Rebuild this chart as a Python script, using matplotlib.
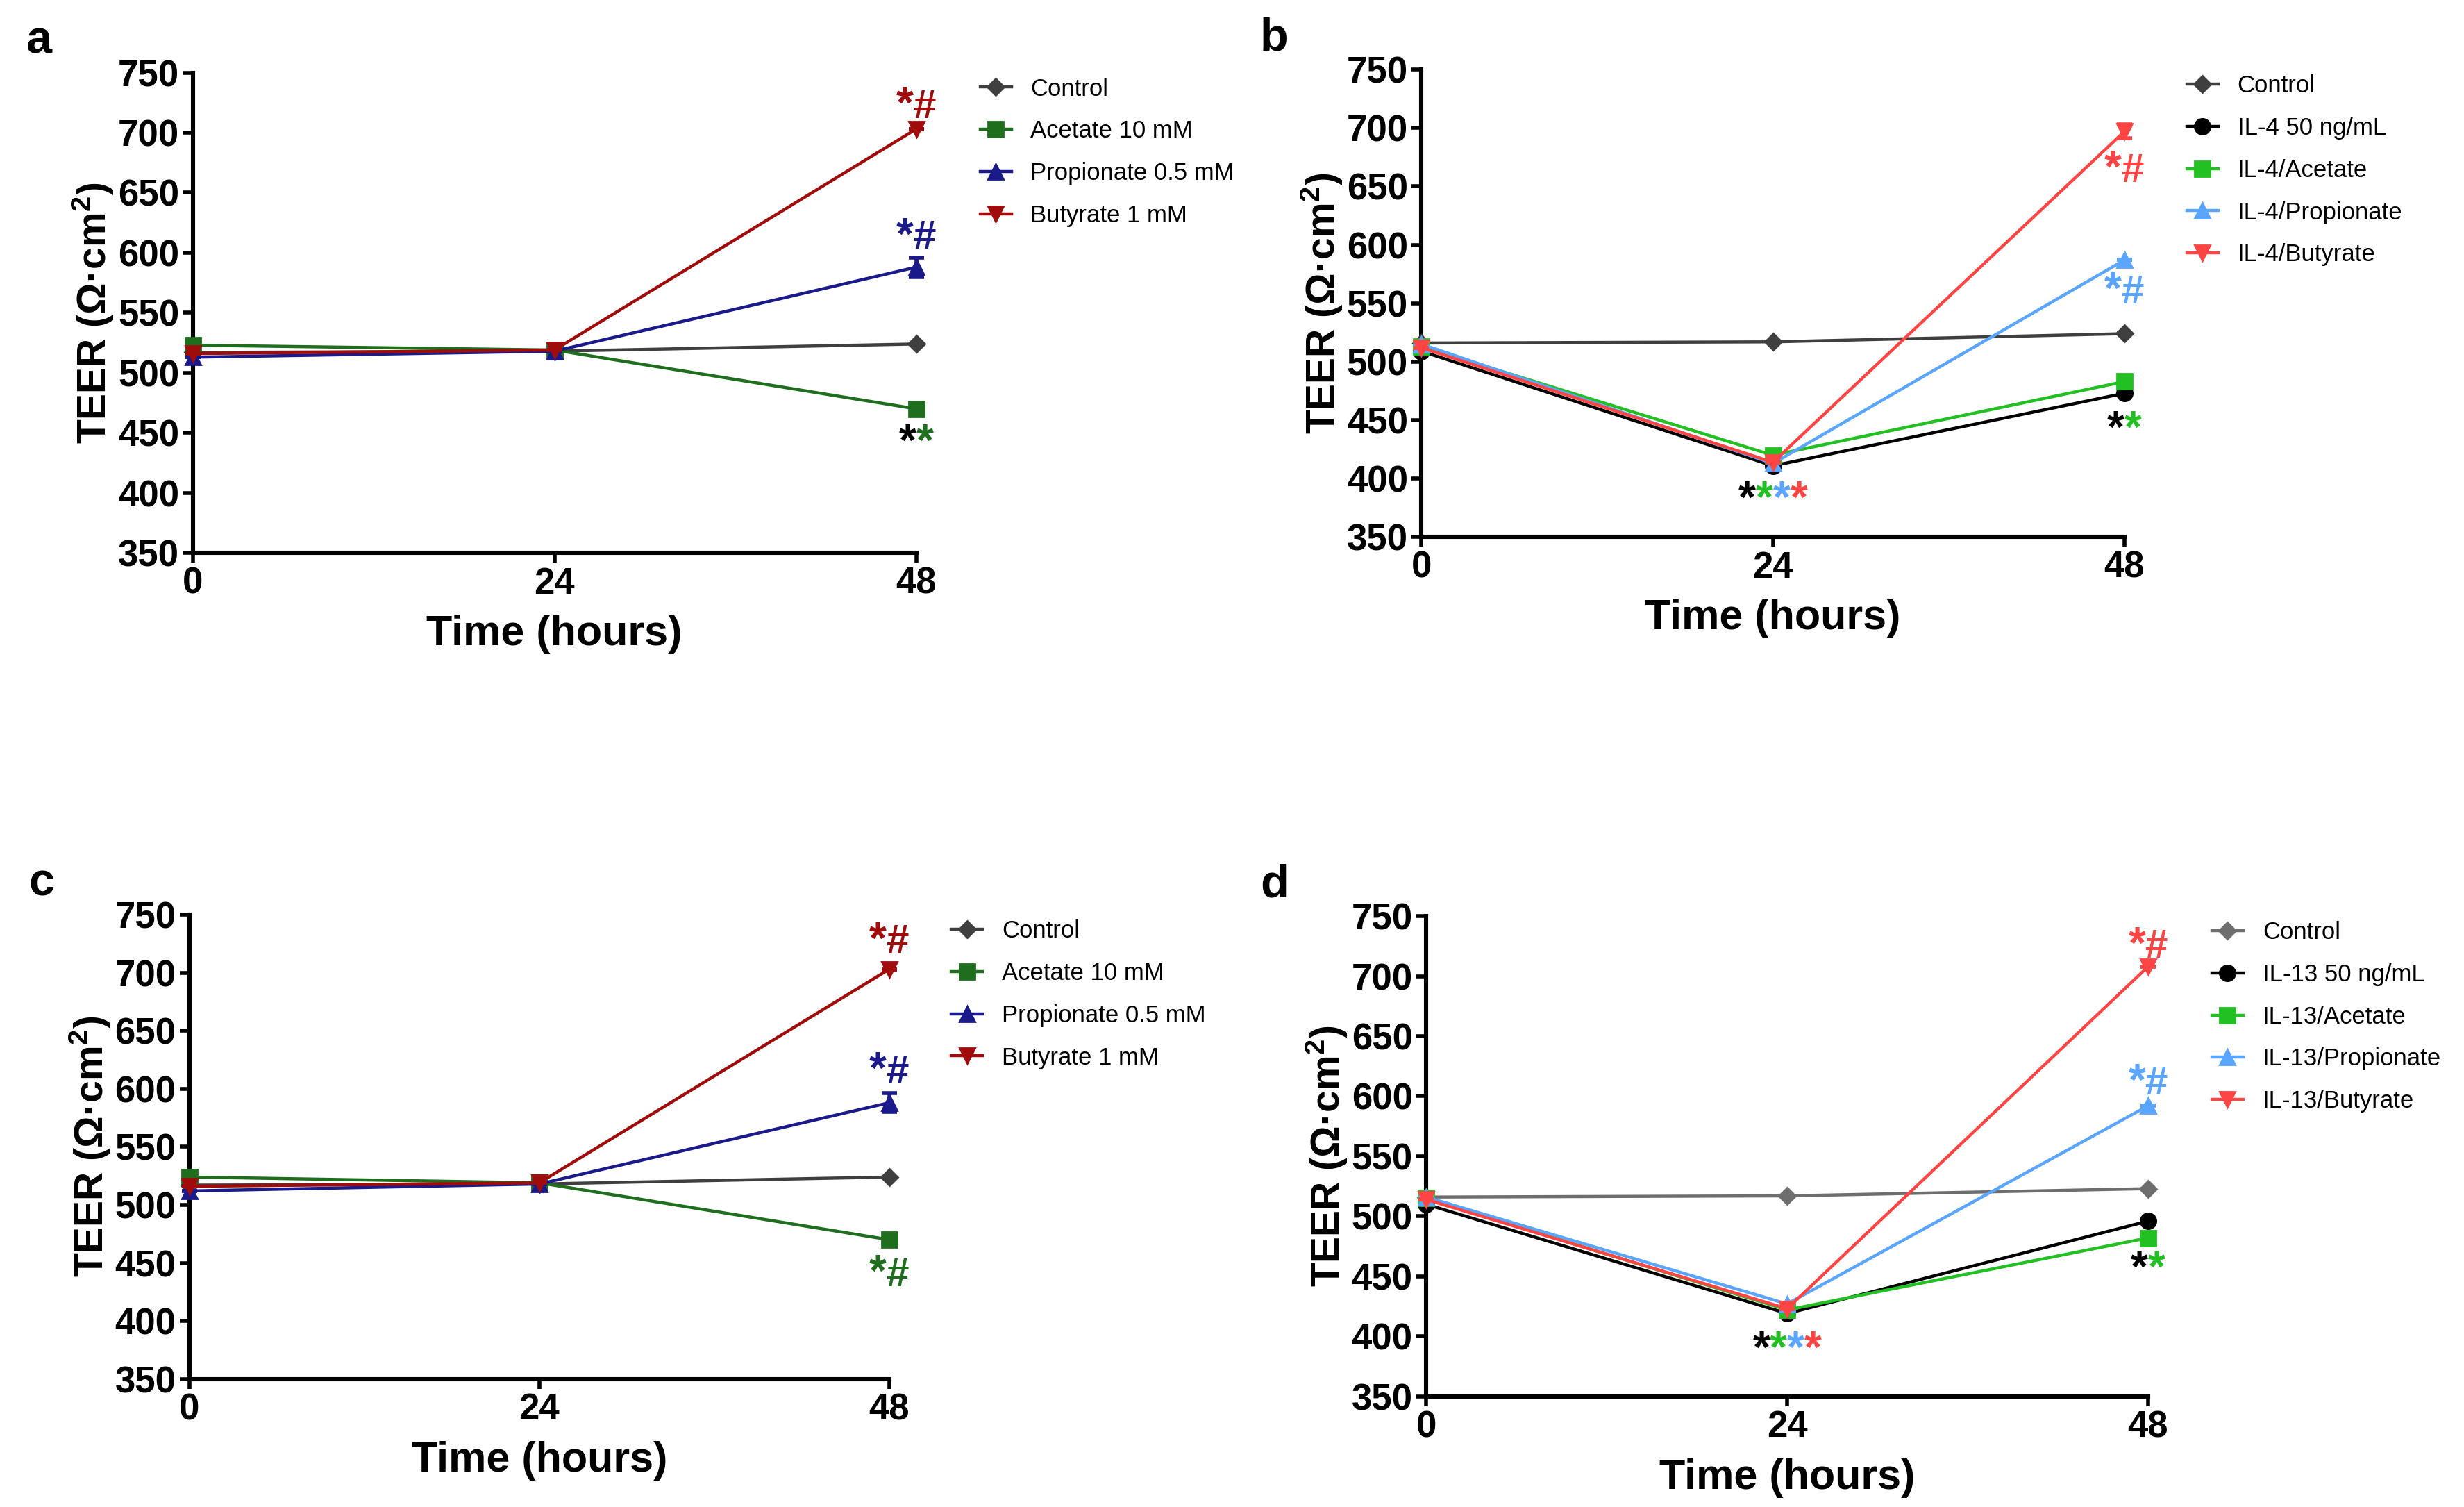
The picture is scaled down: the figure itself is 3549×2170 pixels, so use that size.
import matplotlib
matplotlib.use('Agg')
import matplotlib.pyplot as plt
from matplotlib.offsetbox import AnnotationBbox, HPacker, TextArea

plt.rcParams['font.family'] = ['Liberation Sans Narrow', 'Liberation Sans', 'DejaVu Sans']
plt.rcParams['mathtext.default'] = 'regular'

# data
hours = [0, 24, 48]

a_labels = ['Control', 'Acetate 10 mM', 'Propionate 0.5 mM', 'Butyrate 1 mM']
a_values = [[517, 518, 524], [523, 519, 470], [513, 518, 588], [516, 519, 703]]
a_errors = [[0, 0, 0], [0, 0, 0], [0, 0, 8], [0, 0, 0]]

b_labels = ['Control', 'IL-4 50 ng/mL', 'IL-4/Acetate', 'IL-4/Propionate', 'IL-4/Butyrate']
b_values = [[516, 517, 524], [509, 411, 473], [513, 420, 483], [515, 413, 587], [512, 414, 697]]
b_errors = [[0, 0, 0], [0, 0, 0], [0, 0, 5], [0, 0, 0], [0, 0, 6]]

c_labels = ['Control', 'Acetate 10 mM', 'Propionate 0.5 mM', 'Butyrate 1 mM']
c_values = [[517, 518, 524], [524, 519, 470], [512, 518, 588], [516, 519, 703]]
c_errors = [[0, 0, 0], [0, 0, 0], [0, 0, 8], [0, 0, 0]]

d_labels = ['Control', 'IL-13 50 ng/mL', 'IL-13/Acetate', 'IL-13/Propionate', 'IL-13/Butyrate']
d_values = [[516, 517, 523], [510, 419, 496], [515, 422, 482], [516, 427, 592], [514, 423, 708]]
d_errors = [[0, 0, 0], [0, 0, 0], [0, 0, 4], [0, 0, 0], [0, 0, 0]]

# significance marks: (x, y, [(text, colour), ...])
dark_red, navy, dark_green = '#a00c0c', '#1a1a8a', '#1e6e1e'
red, sky, green = '#ff4444', '#5aa5ff', '#22c022'
a_marks = [(48, 722, [('*', dark_red), ('#', dark_red)]),
           (48, 613, [('*', navy), ('#', navy)]),
           (48, 441, [('*', 'black'), ('*', dark_green)])]
b_marks = [(48, 664, [('*', red), ('#', red)]),
           (48, 560, [('*', sky), ('#', sky)]),
           (48, 441, [('*', 'black'), ('*', green)]),
           (24, 381, [('*', 'black'), ('*', green), ('*', sky), ('*', red)])]
c_marks = [(48, 727, [('*', dark_red), ('#', dark_red)]),
           (48, 615, [('*', navy), ('#', navy)]),
           (48, 440, [('*', dark_green), ('#', dark_green)])]
d_marks = [(48, 725, [('*', red), ('#', red)]),
           (48, 611, [('*', sky), ('#', sky)]),
           (48, 455, [('*', 'black'), ('*', green)]),
           (24, 388, [('*', 'black'), ('*', green), ('*', sky), ('*', red)])]

markers_4 = ['D', 's', '^', 'v']
markers_5 = ['D', 'o', 's', '^', 'v']
colors_a = ['#3f3f3f', dark_green, navy, dark_red]
colors_b = ['#3f3f3f', 'black', green, sky, red]
colors_d = ['#6e6e6e', 'black', green, sky, red]


def draw_panel(ax, letter, labels, values, errors, markers, colors, marks):
    for lab, vals, err, mk, col in zip(labels, values, errors, markers, colors):
        ms = 6 if mk == 'D' else 8
        ax.plot(hours, vals, color=col, marker=mk, markersize=ms, linewidth=1.6,
                label=lab, clip_on=False, zorder=3)
        ax.errorbar(hours, vals, yerr=err, fmt='none', ecolor=col, capsize=4,
                    capthick=2, elinewidth=2, clip_on=False, zorder=3)
    ax.set_xlim(0, 48)
    ax.set_ylim(350, 750)
    ax.set_xticks(hours)
    ax.set_yticks(range(350, 751, 50))
    for s in ['top', 'right']:
        ax.spines[s].set_visible(False)
    for s in ['left', 'bottom']:
        ax.spines[s].set_linewidth(2.2)
    ax.tick_params(width=2, length=5, labelsize=19, pad=2)
    for t in ax.get_xticklabels() + ax.get_yticklabels():
        t.set_fontweight('bold')
    ax.set_xlabel('Time (hours)', fontsize=22, fontweight='bold', labelpad=7)
    ax.set_ylabel('TEER (Ω·cm$^{2}$)', fontsize=20.5, fontweight='bold',
                  family=['Liberation Sans', 'DejaVu Sans'], labelpad=1)
    ax.text(-0.23, 1.02, letter, transform=ax.transAxes, fontsize=24,
            fontweight='bold', family=['Liberation Sans', 'DejaVu Sans'],
            ha='left', va='bottom')
    ax.legend(loc='upper left', bbox_to_anchor=(1.075, 1.01), frameon=False,
              fontsize=12.5, handlelength=1.3, handletextpad=0.8,
              labelspacing=0.8, borderaxespad=0)
    for x, y, parts in marks:
        kids = [TextArea(t, textprops=dict(color=c, fontweight='bold',
                                           fontsize=23 if t == '*' else 21))
                for t, c in parts]
        box = HPacker(children=kids, pad=0, sep=0)
        ab = AnnotationBbox(box, (x, y), frameon=False, box_alignment=(0.5, 0.5),
                            annotation_clip=False)
        ax.add_artist(ab)


fig = plt.figure(figsize=(17.745, 10.85), dpi=200)
ax_a = fig.add_axes([0.0782, 0.6331, 0.2936, 0.3187])
ax_b = fig.add_axes([0.5769, 0.6436, 0.2853, 0.3103])
ax_c = fig.add_axes([0.0769, 0.0849, 0.2840, 0.3082])
ax_d = fig.add_axes([0.5788, 0.0734, 0.2930, 0.3187])

draw_panel(ax_a, 'a', a_labels, a_values, a_errors, markers_4, colors_a, a_marks)
draw_panel(ax_b, 'b', b_labels, b_values, b_errors, markers_5, colors_b, b_marks)
draw_panel(ax_c, 'c', c_labels, c_values, c_errors, markers_4, colors_a, c_marks)
draw_panel(ax_d, 'd', d_labels, d_values, d_errors, markers_5, colors_d, d_marks)

fig.savefig('out.png', dpi=200)
